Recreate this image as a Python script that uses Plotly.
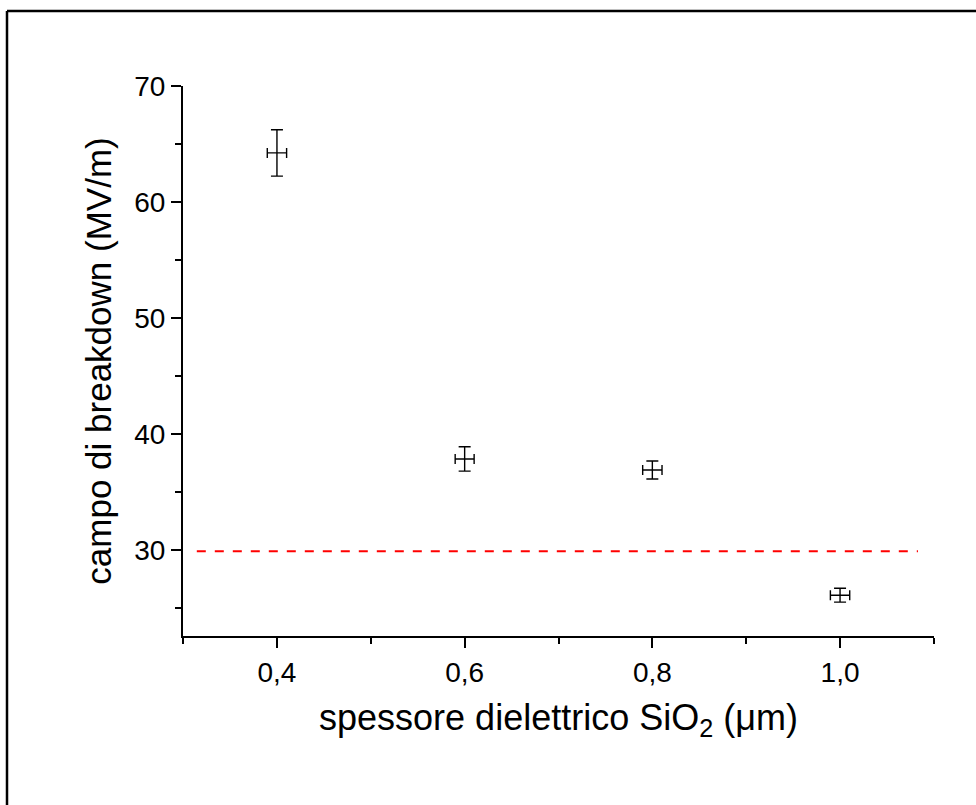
import plotly.graph_objects as go

# Data
thickness_um = [0.4, 0.6, 0.8, 1.0]
breakdown_field = [64.25, 37.85, 36.9, 26.1]
field_err = [2.0, 1.05, 0.78, 0.6]
thickness_err = [0.0103, 0.0101, 0.0103, 0.0103]
threshold = 29.9
threshold_x = [0.3146, 1.083]

FONT = "Liberation Sans, Arial, sans-serif"

fig = go.Figure()

fig.add_trace(go.Scatter(
    x=threshold_x, y=[threshold, threshold], mode="lines",
    line=dict(color="#ff0000", width=2, dash="9px,9px"),
    hoverinfo="skip", showlegend=False))

fig.add_trace(go.Scatter(
    x=thickness_um, y=breakdown_field, mode="markers",
    marker=dict(size=1, color="rgba(0,0,0,0)"),
    error_y=dict(type="data", array=field_err, visible=True,
                 color="black", thickness=1.4, width=6),
    error_x=dict(type="data", array=thickness_err, visible=True,
                 color="black", thickness=1.4, width=5),
    showlegend=False))

fig.update_layout(
    width=976, height=805,
    margin=dict(l=183, r=42, t=86, b=169, pad=0),
    paper_bgcolor="white", plot_bgcolor="white",
    separators=",.",
    font=dict(family=FONT, color="black"),
    xaxis=dict(
        range=[0.2999, 1.1001], tick0=0, dtick=0.2, tickformat=".1f",
        showgrid=False, zeroline=False, showline=True, linecolor="black",
        linewidth=2, ticks="outside", ticklen=10, tickwidth=2, tickcolor="black",
        tickfont=dict(size=28, family=FONT),
        minor=dict(dtick=0.1, tick0=0, ticks="outside", ticklen=6, tickwidth=2,
                   tickcolor="black", showgrid=False),
        title=dict(text="spessore dielettrico SiO<sub>2</sub> (μm)",
                   font=dict(size=36, family=FONT), standoff=18),
    ),
    yaxis=dict(
        range=[22.58, 70.02], tick0=0, dtick=10,
        showgrid=False, zeroline=False, showline=True, linecolor="black",
        linewidth=2, ticks="outside", ticklen=10, tickwidth=2, tickcolor="black",
        tickfont=dict(size=28, family=FONT),
        minor=dict(dtick=5, tick0=0, ticks="outside", ticklen=6, tickwidth=2,
                   tickcolor="black", showgrid=False),
        title=dict(text="campo di breakdown (MV/m)",
                   font=dict(size=35, family=FONT), standoff=12),
    ),
    shapes=[
        dict(type="line", xref="paper", yref="paper",
             x0=(7 - 183) / 751, x1=1.2, y0=(636 - 11) / 550, y1=(636 - 11) / 550,
             line=dict(color="black", width=2.5)),
        dict(type="line", xref="paper", yref="paper",
             x0=(7 - 183) / 751, x1=(7 - 183) / 751, y0=-0.4, y1=(636 - 11) / 550,
             line=dict(color="black", width=2.5)),
    ],
)

fig.write_html("out.html")
